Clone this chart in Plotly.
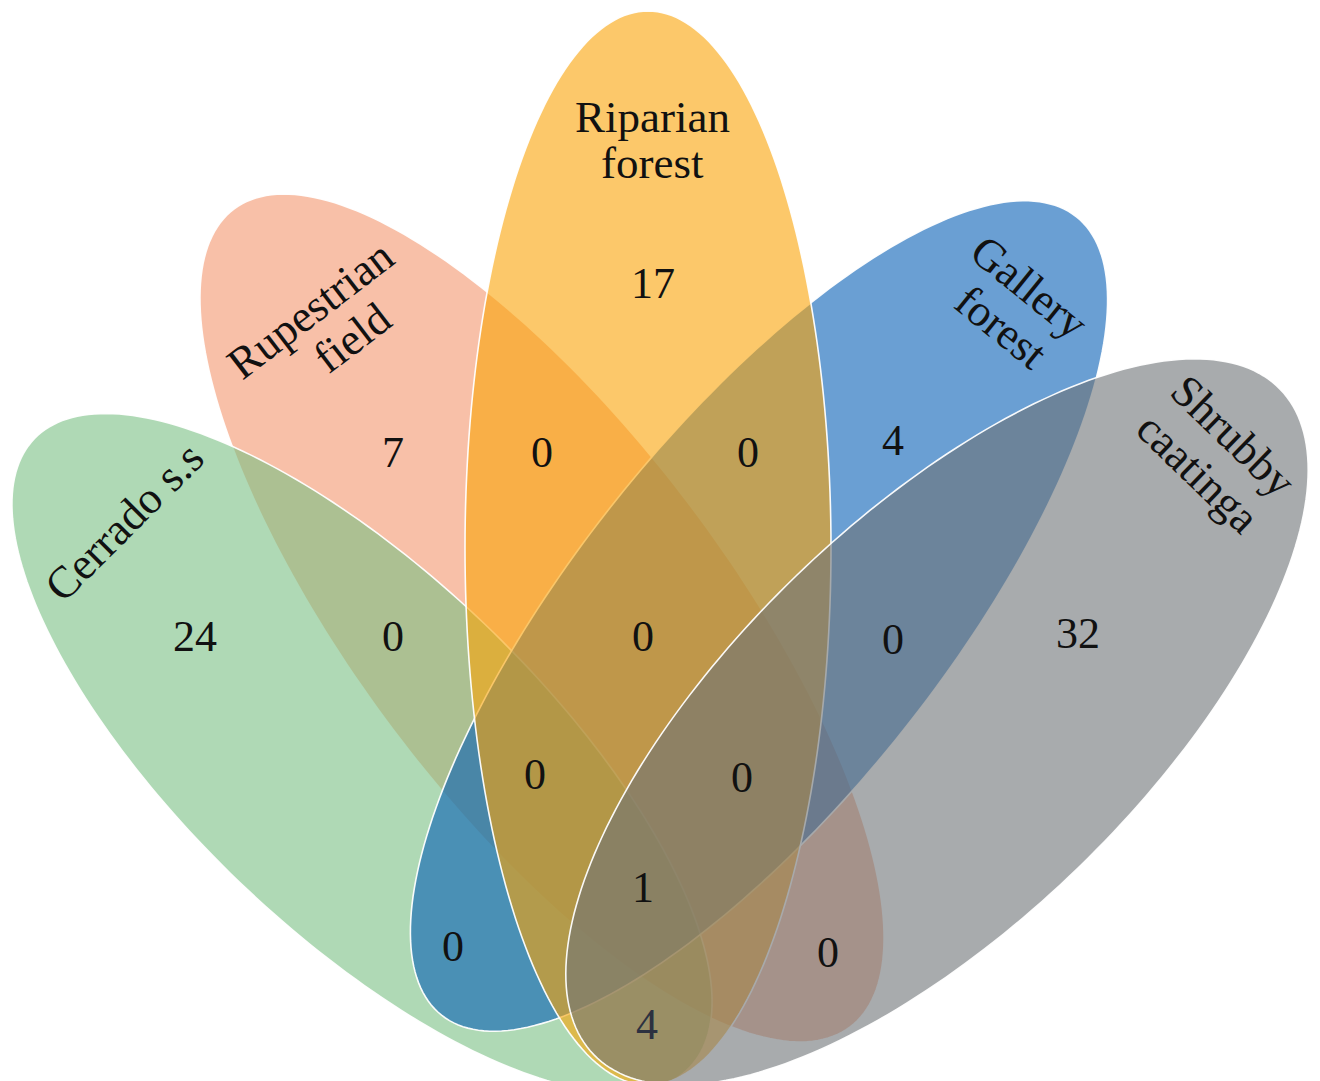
import numpy as np
import plotly.graph_objects as go

# ---------------- data ----------------
set_names = ["Cerrado s.s", "Rupestrian field", "Riparian forest",
             "Gallery forest", "Shrubby caatinga"]
# label lines for each set (as printed in the figure)
set_label_lines = [["Cerrado s.s"], ["Rupestrian", "field"], ["Riparian", "forest"],
                   ["Gallery", "forest"], ["Shrubby", "caatinga"]]
# region counts (species shared / exclusive), in reading order
region_names = ["Riparian only", "Rupestrian only", "Rupestrian+Riparian", "Riparian+Gallery",
                "Gallery only", "Cerrado only", "Cerrado+Rupestrian", "Rupestrian+Riparian+Gallery",
                "Gallery+Shrubby", "Shrubby only", "Cerrado+Riparian+Gallery",
                "Riparian+Gallery+Shrubby", "All five", "Cerrado+Gallery",
                "Rupestrian+Shrubby", "Cerrado+Riparian+Shrubby"]
region_counts = [17, 7, 0, 0, 4, 24, 0, 0, 0, 32, 0, 0, 1, 0, 0, 4]

# ---------------- layout (pixel space) ----------------
W, H = 1320, 1081
region_x = [653, 393, 542, 748, 893, 195, 393, 643, 893, 1078, 535, 742, 643, 453, 828, 647]
region_y = [287, 456, 456, 456, 444, 640, 640, 640, 643, 637, 778, 781, 891, 950, 956, 1028]
region_colors = ["#111111"] * 15 + ["#2c3140"]

# ellipse geometry per set: centre, semi axes, rotation (deg, screen coords), colour
ell = {
    "Cerrado s.s":      dict(cx=362, cy=753, a=454, b=178, ang=43.8,  rgb=(122, 192, 132)),
    "Rupestrian field": dict(cx=542, cy=618, a=512, b=186, ang=53.0,  rgb=(243, 150, 110)),
    "Riparian forest":  dict(cx=648, cy=548, a=537, b=183, ang=90.0,  rgb=(250, 163, 7)),
    "Gallery forest":   dict(cx=759, cy=616, a=510, b=184, ang=-51.5, rgb=(7, 95, 182)),
    "Shrubby caatinga": dict(cx=937, cy=722, a=478, b=203, ang=-44.1, rgb=(110, 115, 118)),
}
draw_order = ["Rupestrian field", "Cerrado s.s", "Gallery forest", "Riparian forest", "Shrubby caatinga"]
ALPHA = 0.6

# label placements: list of (x, y, angle) per line
label_pos = {
    "Cerrado s.s":      [(124, 522, -45)],
    "Rupestrian field": [(310, 310, -37.5), (352, 338, -37.5)],
    "Riparian forest":  [(652, 117, 0), (652, 163, 0)],
    "Gallery forest":   [(1029, 287, 39), (1001, 327, 39)],
    "Shrubby caatinga": [(1233, 436, 44), (1198, 473, 44)],
}

FONT = "Liberation Serif, Times New Roman, serif"


def ellipse_path(cx, cy, a, b, ang, n=240):
    t = np.linspace(0, 2 * np.pi, n, endpoint=False)
    th = np.deg2rad(ang)
    x = cx + a * np.cos(t) * np.cos(th) - b * np.sin(t) * np.sin(th)
    y = cy + a * np.cos(t) * np.sin(th) + b * np.sin(t) * np.cos(th)
    pts = [f"{xi:.2f},{yi:.2f}" for xi, yi in zip(x, y)]
    return "M " + " L ".join(pts) + " Z"


fig = go.Figure()

shapes = []
for name in draw_order:
    e = ell[name]
    r, g, b = e["rgb"]
    shapes.append(dict(
        type="path", xref="x", yref="y", layer="below",
        path=ellipse_path(e["cx"], e["cy"], e["a"], e["b"], e["ang"]),
        fillcolor=f"rgba({r},{g},{b},{ALPHA})",
        line=dict(color="rgba(255,255,255,0.95)", width=1.6),
    ))

fig.add_trace(go.Scatter(
    x=region_x, y=region_y, mode="text",
    text=[str(v) for v in region_counts],
    textposition="middle center",
    textfont=dict(family=FONT, size=44, color=region_colors),
    hovertext=region_names, hoverinfo="text", showlegend=False,
))

annotations = []
for name, lines in zip(set_names, set_label_lines):
    for line, (x, y, angle) in zip(lines, label_pos[name]):
        annotations.append(dict(
            x=x, y=y, xref="x", yref="y", text=line, showarrow=False,
            textangle=angle, xanchor="center", yanchor="middle",
            font=dict(family=FONT, size=45, color="#111111"),
        ))

fig.update_layout(
    width=W, height=H,
    margin=dict(l=0, r=0, t=0, b=0),
    paper_bgcolor="white", plot_bgcolor="white",
    shapes=shapes, annotations=annotations,
    xaxis=dict(range=[0, W], visible=False, fixedrange=True),
    yaxis=dict(range=[H, 0], visible=False, fixedrange=True),
    showlegend=False,
)

fig.write_html("out.html", config={"displayModeBar": False},
               post_script="document.body.style.margin='0px';document.body.style.overflow='hidden';")
